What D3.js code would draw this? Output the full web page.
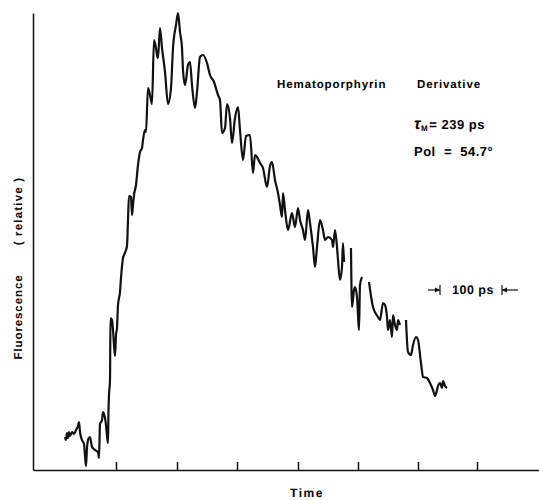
<!DOCTYPE html>
<html>
<head>
<meta charset="utf-8">
<script src="https://cdn.jsdelivr.net/npm/d3@7"></script>
<style>
  body { margin: 0; background: #fff; }
  .lbl { font-family: "Liberation Sans", Arial, sans-serif; font-weight: bold; fill: #000; text-rendering: geometricPrecision; }
  .axis path, .axis line { stroke: #111; stroke-width: 1.5; }
  .curve { fill: none; stroke: #111; stroke-width: 2.2; stroke-linejoin: round; }
</style>
</head>
<body>
<div id="chart"></div>
<script>
// Time axis in detector channels (about 60 channels = 100 ps), fluorescence in counts (relative)
var channels = [32, 33, 34, 35, 36, 37, 39, 41, 43, 45, 46, 47, 49, 51, 52, 53, 54, 55, 56, 57,
  59, 62, 65, 66, 67, 69, 70, 72, 73, 74, 75, 75.5, 76, 77, 77.5, 79, 80, 81, 82, 83,
  84, 85, 87, 88, 90, 91, 93, 94, 95, 96, 98, 99, 100, 101, 103, 105, 107, 109, 110, 112,
  113, 115, 117, 119, 121, 123, 124, 125, 127, 129, 132, 135, 138, 140, 143, 145, 147, 149, 150, 152,
  155, 157, 159, 162, 164, 167, 170, 174, 177, 181, 185, 187, 189, 192, 194, 197, 199, 202, 205, 207,
  210, 213, 217, 220, 222, 224, 227, 230, 234, 237, 239, 242, 245, 247, 249, 250, 252, 255, 259, 262,
  265, 267, 270, 272, 275, 277, 280, 282, 284, 287, 290, 292, 295, 299, 300, 302, 304, 305, 307, 309,
  310, 311, 314,
  318, 319, 321, 322, 324, 325, 326, 327, 329, 332,
  336, 340, 345, 347, 350, 352, 354, 355, 357, 359, 360, 362, 364, 365, 367, 370,
  373, 375, 378, 380, 383, 385, 388, 390, 394, 397, 400, 402, 404, 405, 407, 409, 410, 412, 414];

var counts = [33, 30, 37, 32, 38, 34, 38, 36, 40, 44, 48, 38, 30, 26, 14, 4, 22, 30, 32, 33,
  23, 20, 18, 12, 46, 50, 58, 52, 45, 34, 27, 60, 75, 90, 152, 150, 140, 125, 114, 135,
  142, 165, 178, 192, 212, 215, 220, 224, 250, 274, 273, 255, 265, 275, 285, 305, 318, 322, 330, 340,
  338, 382, 375, 366, 430, 422, 415, 412, 442, 422, 398, 366, 382, 422, 445, 457, 438, 422, 400, 385,
  405, 408, 385, 362, 378, 413, 415, 407, 395, 388, 375, 370, 337, 342, 366, 352, 327, 352, 363, 340,
  310, 334, 335, 297, 315, 313, 307, 302, 283, 304, 308, 290, 277, 265, 253, 277, 260, 240, 257, 243,
  262, 250, 240, 230, 260, 247, 223, 203, 223, 250, 240, 230, 233, 230, 223, 240, 223, 210, 190, 203,
  227, 208, null,
  222, 163, 180, 183, 173, 155, 140, 185, 193, null,
  188, 163, 153, 150, 167, 165, 153, 140, 150, 133, 155, 145, 140, 150, 145, null,
  150, 118, 115, 125, 133, 130, 107, 93, 92, 87, 80, 74, 80, 84, 87, 82, 89, 84, 82];

// tick marks every 100 ps
var tickChannels = [83, 144, 204, 265, 325, 385, 444];

var W = 539, H = 500;
var margin = { top: 13, right: 0, bottom: 30, left: 33 };

var x = d3.scaleLinear().domain([0, 506]).range([margin.left, W - margin.right]);
var y = d3.scaleLinear().domain([0, 457]).range([H - margin.bottom, margin.top]);

var svg = d3.select("#chart").append("svg")
    .attr("width", W)
    .attr("height", H);

// x axis with inward ticks, no labels
svg.append("g")
    .attr("class", "axis")
    .attr("transform", "translate(0," + y(0) + ")")
    .call(d3.axisBottom(x).tickValues(tickChannels).tickSizeInner(-8).tickSizeOuter(0).tickFormat(""));

// y axis: plain line
svg.append("g")
    .attr("class", "axis")
    .attr("transform", "translate(" + x(0) + ",0)")
    .call(d3.axisLeft(y).tickValues([]).tickSizeOuter(0));

// the decay curve
var data = channels.map(function (c, i) { return { c: c, v: counts[i] }; });

var line = d3.line()
    .defined(function (d) { return d.v !== null; })
    .curve(d3.curveMonotoneX)
    .x(function (d) { return x(d.c); })
    .y(function (d) { return y(d.v); });

svg.append("path")
    .attr("class", "curve")
    .attr("d", line(data));

// axis titles
svg.append("text")
    .attr("class", "lbl")
    .attr("x", 307).attr("y", 497)
    .attr("text-anchor", "middle")
    .style("font-size", "12px")
    .style("letter-spacing", "1.5px")
    .text("Time");

svg.append("text")
    .attr("class", "lbl")
    .attr("transform", "translate(22,317) rotate(-90)")
    .attr("text-anchor", "middle")
    .style("font-size", "11.5px")
    .style("letter-spacing", "0.9px")
    .text("Fluorescence");

svg.append("text")
    .attr("class", "lbl")
    .attr("transform", "translate(22,211) rotate(-90)")
    .attr("text-anchor", "middle")
    .style("font-size", "11.5px")
    .style("letter-spacing", "1.2px")
    .attr("xml:space", "preserve")
    .text("( relative )");

// annotations
svg.append("text")
    .attr("class", "lbl")
    .attr("x", 277).attr("y", 88)
    .style("font-size", "11.5px")
    .style("letter-spacing", "0.9px")
    .text("Hematoporphyrin");

svg.append("text")
    .attr("class", "lbl")
    .attr("x", 417).attr("y", 88)
    .style("font-size", "11.5px")
    .style("letter-spacing", "0.9px")
    .text("Derivative");

var tau = svg.append("text")
    .attr("class", "lbl")
    .attr("x", 414).attr("y", 129)
    .style("font-size", "13px")
    .style("letter-spacing", "0.5px");
tau.append("tspan").style("font-style", "italic").style("font-size", "16px").text("τ");
tau.append("tspan").attr("dy", 2).style("font-size", "8px").text("M");
tau.append("tspan").attr("dy", -2).attr("dx", 1).text("= 239 ps");

svg.append("text")
    .attr("class", "lbl")
    .attr("x", 414).attr("y", 156)
    .style("font-size", "13px")
    .style("letter-spacing", "0.5px")
    .attr("xml:space", "preserve")
    .text("Pol  =  54.7°");

// 100 ps scale marker
var scaleLeft = 440, scaleRight = 502, sy = 290;
svg.append("line").attr("x1", 428).attr("x2", scaleLeft).attr("y1", sy).attr("y2", sy).attr("stroke", "#111").attr("stroke-width", 1.2);
svg.append("line").attr("x1", scaleLeft).attr("x2", scaleLeft).attr("y1", sy - 5).attr("y2", sy + 5).attr("stroke", "#111").attr("stroke-width", 1.2);
svg.append("path").attr("d", "M" + scaleLeft + "," + sy + "l-5,-2.5l0,5z").attr("fill", "#111");
svg.append("line").attr("x1", scaleRight).attr("x2", 518).attr("y1", sy).attr("y2", sy).attr("stroke", "#111").attr("stroke-width", 1.2);
svg.append("line").attr("x1", scaleRight).attr("x2", scaleRight).attr("y1", sy - 5).attr("y2", sy + 5).attr("stroke", "#111").attr("stroke-width", 1.2);
svg.append("path").attr("d", "M" + scaleRight + "," + sy + "l5,-2.5l0,5z").attr("fill", "#111");
svg.append("text")
    .attr("class", "lbl")
    .attr("x", 452).attr("y", sy + 4)
    .style("font-size", "12.5px")
    .style("letter-spacing", "0.5px")
    .text("100 ps");
</script>
</body>
</html>
